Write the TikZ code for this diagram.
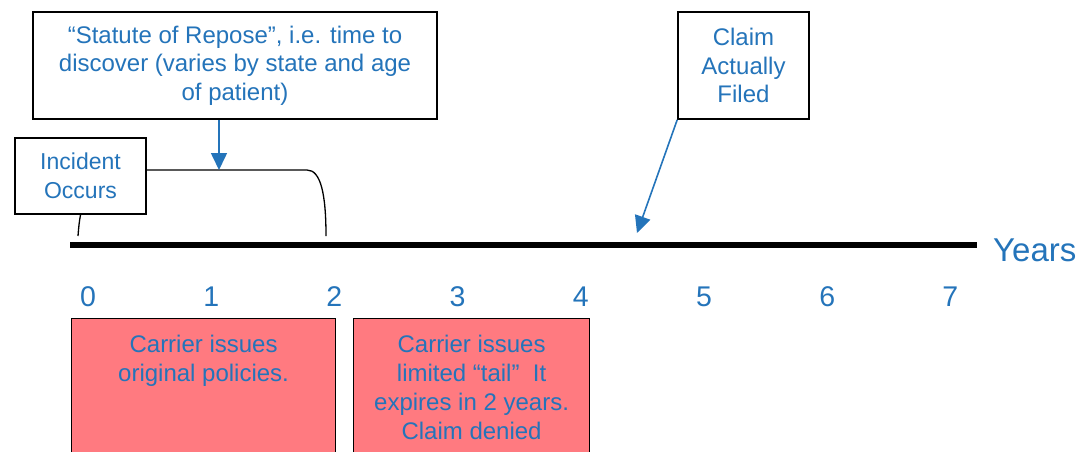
\documentclass[tikz,border=0pt]{standalone}
\usepackage{fontspec}
\setmainfont{Liberation Sans}
\usetikzlibrary{arrows.meta,positioning}
\definecolor{labelblue}{RGB}{36,116,186}
\definecolor{policypink}{RGB}{255,122,128}
\tikzset{
	notebox/.style={draw=black,line width=1.6pt,fill=white,text=labelblue,align=center,inner sep=0pt,font=\fontsize{24}{28.5}\selectfont},
	policybox/.style={draw=black,line width=1.2pt,fill=policypink,anchor=north west,inner sep=0pt},
	policytext/.style={text=labelblue,align=center,anchor=north,inner sep=0pt,font=\fontsize{24}{29}\selectfont},
	pointer/.style={draw=labelblue,line width=1.6pt,-{Triangle[width=16pt,length=17pt,fill=labelblue]}},
	yearlabel/.style={text=labelblue,inner sep=0pt,font=\fontsize{28.5}{32}\selectfont}
}

\begin{document}
\begin{tikzpicture}[x=1pt,y=-1pt]
	\clip (0,0) rectangle (1077,451);

	% the note boxes on top
	\node[notebox,minimum width=404pt,minimum height=107pt] (repose) at (235,65.5) {“Statute of Repose”, i.e. time to\\discover (varies by state and age\\of patient)};
	\node[notebox,minimum width=131pt,minimum height=76pt,font=\fontsize{23}{28.5}\selectfont] (incident) at (80.5,176) {Incident\\Occurs};
	\node[notebox,minimum width=131pt,minimum height=107pt] (claim) at (743.5,65.5) {Claim\\Actually\\Filed};

	% time line
	\coordinate (axisstart) at (70,245);
	\coordinate (axisend) at (977,245);
	\draw[line width=6pt] (axisstart) -- (axisend);
	\node[yearlabel,font=\fontsize{33}{36}\selectfont,right=16pt of axisend,yshift=-5pt] (years) {Years};

	\foreach \n in {0,...,7}
		\node[yearlabel] (year\n) at (88+123.2*\n,297) {\n};

	% bracket from the incident to year 2
	\coordinate (tickfoot) at (78,236);
	\coordinate (bracketcorner) at (307,170);
	\coordinate (bracketfoot) at (326,236);
	\draw[line width=1.3pt] (incident.south) .. controls (79,224) .. (tickfoot);
	\draw[line width=1.3pt] (incident.east |- bracketcorner) -- (bracketcorner) .. controls (321,170) and (326,195) .. (bracketfoot);

	% pointers
	\coordinate (reposetip) at (219,170);
	\coordinate (filedtip) at (637,233);
	\draw[pointer] (repose.south -| reposetip) -- (reposetip);
	\draw[pointer] (claim.south west) -- (filedtip);

	% policy boxes, running off the bottom
	\node[policybox,minimum width=264pt,minimum height=150pt] (original) at (71,318) {};
	\node[policybox,minimum width=236pt,minimum height=150pt] (tail) at (353,318) {};
	\node[policytext] (originaltext) at ([yshift=-17pt]original.north) {Carrier issues\\original policies.};
	\node[policytext] (tailtext) at ([yshift=-17pt]tail.north) {Carrier issues\\limited “tail”~ It\\expires in 2 years.\\Claim denied};

\end{tikzpicture}
\end{document}
